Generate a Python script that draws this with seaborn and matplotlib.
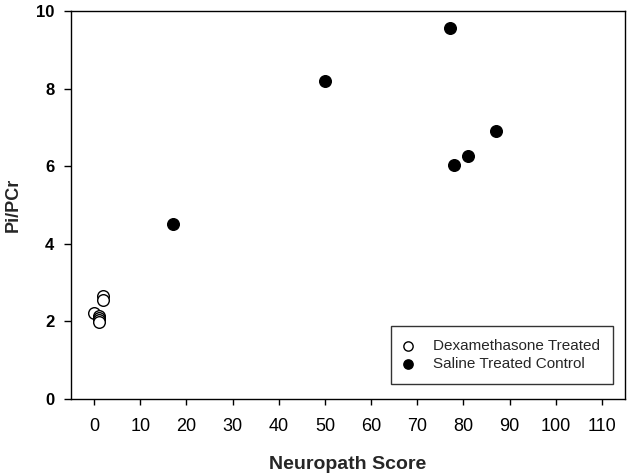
import matplotlib
matplotlib.use("Agg")
import matplotlib.pyplot as plt
import seaborn as sns

# Dexamethasone treated (open circles)
dex_score = [0, 1, 1, 1, 1, 2, 2]
dex_ratio = [2.22, 2.15, 2.08, 2.03, 1.99, 2.66, 2.56]

# Saline treated control (filled circles)
sal_score = [17, 50, 77, 78, 81, 87]
sal_ratio = [4.52, 8.19, 9.55, 6.02, 6.27, 6.91]

x_ticks = list(range(0, 111, 10))
y_ticks = [0, 2, 4, 6, 8, 10]

sns.set_style("ticks")
plt.rcParams['font.family'] = ['Liberation Sans', 'DejaVu Sans']

fig = plt.figure(figsize=(6.3, 4.73), dpi=100)
ax = fig.add_axes([0.1127, 0.1564, 0.8793, 0.8203])

sns.scatterplot(x=dex_score, y=dex_ratio, ax=ax, s=70, facecolor='white',
                edgecolor='black', linewidth=1.0, label='Dexamethasone Treated', zorder=3)
sns.scatterplot(x=sal_score, y=sal_ratio, ax=ax, s=70, color='black',
                edgecolor='black', linewidth=1.0, label='Saline Treated Control', zorder=3)

ax.set_xlim(-5, 115)
ax.set_ylim(0, 10)
ax.set_xticks(x_ticks)
ax.set_yticks(y_ticks)
ax.tick_params(axis='x', direction='out', length=4, width=1, labelsize=13, pad=10, colors='black')
ax.tick_params(axis='y', direction='out', length=5, width=1, labelsize=12, pad=7, colors='black')
for lab in ax.get_yticklabels():
    lab.set_fontweight('bold')

for sp in ax.spines.values():
    sp.set_visible(True)
    sp.set_color('black')
    sp.set_linewidth(1.0)

ax.set_xlabel('Neuropath Score', fontsize=14, fontweight='bold', labelpad=15)
ax.set_ylabel('Pi/PCr', fontsize=13, fontweight='bold', labelpad=10)

leg = ax.legend(loc='lower right', fontsize=11, frameon=True, fancybox=False,
                edgecolor='black', borderpad=0.85, handlelength=0.5, handletextpad=1.4,
                labelspacing=0.25, markerscale=0.8, borderaxespad=0,
                bbox_to_anchor=(0.978, 0.039))
leg.get_frame().set_linewidth(1.0)

fig.savefig('out.png', dpi=100)
